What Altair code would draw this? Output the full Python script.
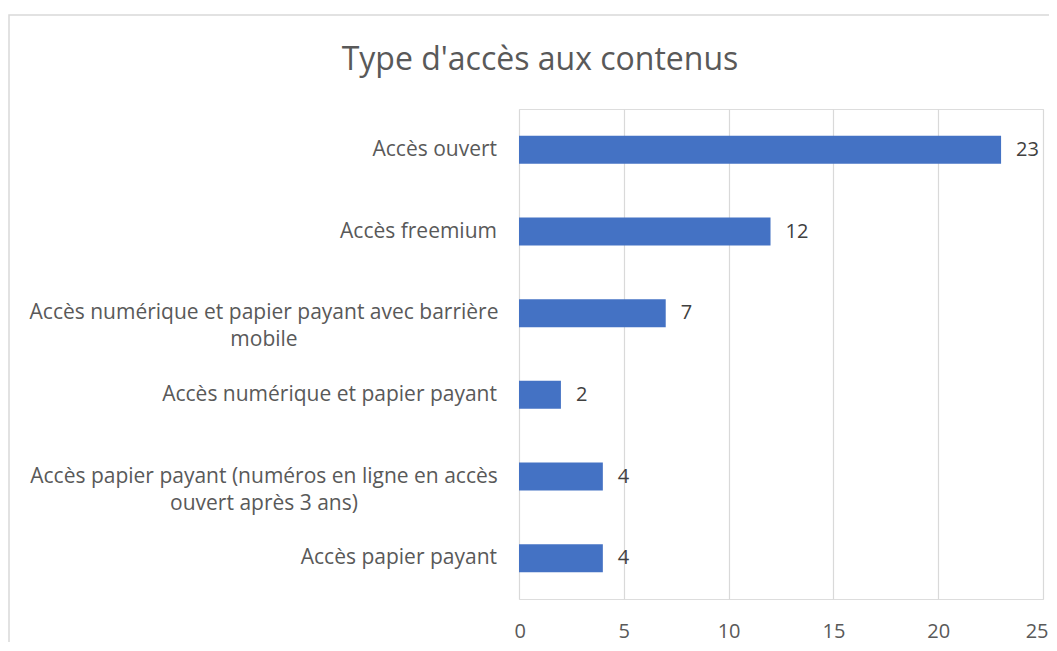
import altair as alt
import pandas as pd

title_text = "Type d'accès aux contenus"
categories = [
    "Accès ouvert",
    "Accès freemium",
    "Accès numérique et papier payant avec barrière mobile",
    "Accès numérique et papier payant",
    "Accès papier payant (numéros en ligne en accès ouvert après 3 ans)",
    "Accès papier payant",
]
labels = [
    "Accès ouvert",
    "Accès freemium",
    "Accès numérique et papier payant avec barrière\nmobile",
    "Accès numérique et papier payant",
    "Accès papier payant (numéros en ligne en accès\nouvert après 3 ans)",
    "Accès papier payant",
]
values = [23, 12, 7, 2, 4, 4]
x_ticks = [0, 5, 10, 15, 20, 25]

FONT = "Open Sans"
df = pd.DataFrame({
    "cat": categories,
    "label": labels,
    "value": values,
    "multi": ["\n" in s for s in labels],
})

y_enc = alt.Y(
    "cat:N", sort=categories, axis=None,
    scale=alt.Scale(paddingInner=0.657, paddingOuter=0.3285),
)
x_enc = alt.X(
    "value:Q",
    scale=alt.Scale(domain=[0, 25], nice=False, zero=True),
    axis=alt.Axis(
        values=x_ticks, grid=True, gridColor="#D9D9D9", gridWidth=1.2,
        domain=False, ticks=False, title=None, labelFont=FONT,
        labelFontSize=20, labelColor="#595959", labelPadding=22,
        labelFlush=True, labelFlushOffset=5, labelBound=False,
        labelOverlap=False,
    ),
)

base = alt.Chart(df)

bars = base.mark_bar(color="#4472C4").encode(x=x_enc, y=y_enc)

vals = base.mark_text(
    align="left", baseline="middle", dx=15, fontSize=20,
    font=FONT, color="#404040",
).encode(x="value:Q", y=y_enc, text="value:Q")

single = base.transform_filter("!datum.multi").mark_text(
    align="right", baseline="middle", fontSize=21, font=FONT,
    color="#595959", lineBreak="\n",
).encode(x=alt.value(-22), y=y_enc, text="label:N")

multi = base.transform_filter("datum.multi").mark_text(
    align="center", baseline="middle", fontSize=21, font=FONT,
    color="#595959", lineBreak="\n", lineHeight=27,
).encode(x=alt.value(-255), y=y_enc, text="label:N")

title = alt.Chart(alt.Data(values=[{"t": title_text}])).mark_text(
    align="center", baseline="alphabetic", fontSize=32, font=FONT,
    color="#595959",
).encode(x=alt.value(21), y=alt.value(-39), text="t:N")

border = alt.Chart(alt.Data(values=[{"k": 1}])).mark_rect(
    fill="transparent", stroke="#D9D9D9", strokeWidth=1.5,
).encode(x=alt.value(-510), x2=alt.value(700), y=alt.value(-94), y2=alt.value(800))

chart = alt.layer(border, bars, vals, single, multi, title).properties(
    width=524, height=490,
    autosize=alt.AutoSizeParams(type="none"),
    padding={"left": 511, "top": 101, "right": 6, "bottom": 43},
).configure_view(stroke=None).configure(background="white")

chart.save("out.html", embed_options={"renderer": "svg", "actions": False})
